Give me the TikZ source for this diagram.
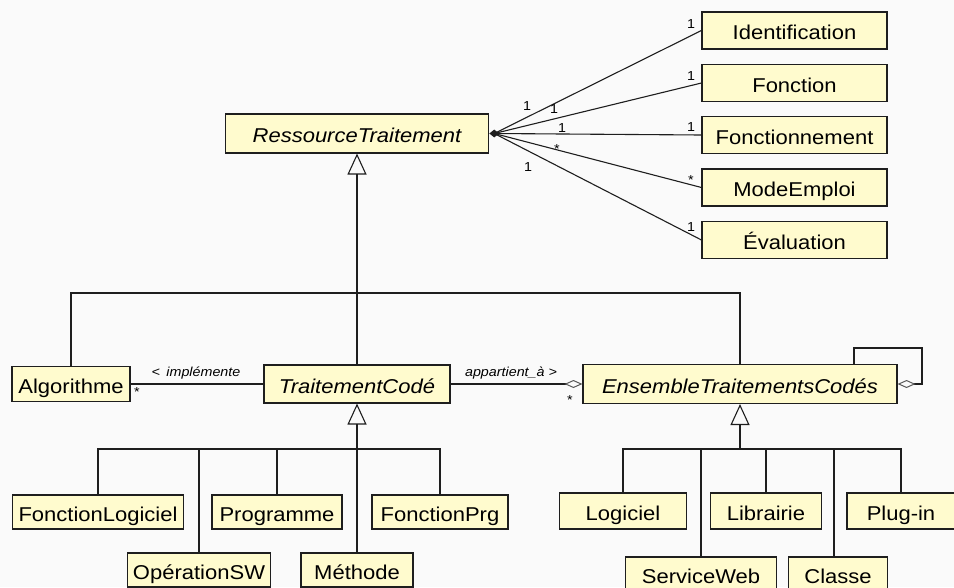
\documentclass[tikz,border=0pt]{standalone}
\usepackage{fontspec}
\usetikzlibrary{arrows.meta,shapes.geometric}
\newfontfamily\umlfont[FakeStretch=1.1]{Liberation Sans}
\definecolor{bgc}{RGB}{250,250,250}
\definecolor{boxc}{RGB}{255,251,206}
\definecolor{linec}{RGB}{30,30,30}
\begin{document}
\begin{tikzpicture}[x=1pt,y=-1pt,
  cls/.style={draw=linec, fill=boxc, line width=1.1pt, inner sep=0pt,
    font=\umlfont\fontsize{20}{24}\selectfont, text height=20pt, text depth=2pt, anchor=center},
  abscls/.style={cls, font=\umlfont\itshape\fontsize{20}{24}\selectfont},
  conn/.style={draw=linec, line width=1.1pt},
  gen/.style={conn, -{Triangle[open, length=21pt, width=19pt, line width=1.1pt]}},
  aggr/.style={conn, -{Diamond[open, length=18pt, width=8pt, line width=1pt, color=gray!70!black]}},
  mult/.style={font=\umlfont\fontsize{13}{15}\selectfont, inner sep=0pt, anchor=base},
  lab/.style={mult, font=\umlfont\itshape\fontsize{13}{15}\selectfont}
]
\fill[bgc] (0,0) rectangle (954,587);
\useasboundingbox (0,0) rectangle (954,587);

% classes
\node[abscls, minimum width=263pt, minimum height=39pt] (res) at (357,133.5) {RessourceTraitement};
\node[cls, minimum width=185pt, minimum height=37pt] (ident) at (794.5,30.5) {Identification};
\node[cls, minimum width=185pt, minimum height=37pt] (fonc) at (794.5,83) {Fonction};
\node[cls, minimum width=185pt, minimum height=37pt] (foncmt) at (794.5,135) {Fonctionnement};
\node[cls, minimum width=185pt, minimum height=37pt] (mode) at (794.5,187.5) {ModeEmploi};
\node[cls, minimum width=185pt, minimum height=37pt] (eval) at (794.5,240) {Évaluation};

\node[cls, minimum width=118pt, minimum height=35pt] (algo) at (71,384) {Algorithme};
\node[abscls, minimum width=186pt, minimum height=38pt] (tc) at (357,384) {TraitementCodé};
\node[abscls, minimum width=314pt, minimum height=39pt] (etc) at (740,384) {EnsembleTraitementsCodés};

\node[cls, minimum width=171pt, minimum height=34pt] (flog) at (98,512) {FonctionLogiciel};
\node[cls, minimum width=130pt, minimum height=34pt] (prog) at (277,512) {Programme};
\node[cls, minimum width=136pt, minimum height=34pt] (fprg) at (440,512) {FonctionPrg};
\node[cls, minimum width=143pt, minimum height=34pt] (opsw) at (199,570) {OpérationSW};
\node[cls, minimum width=112pt, minimum height=34pt] (meth) at (357,570) {Méthode};

\node[cls, minimum width=127pt, minimum height=36pt] (logi) at (623,511) {Logiciel};
\node[cls, minimum width=111pt, minimum height=36pt] (libr) at (766,511) {Librairie};
\node[cls, minimum width=108pt, minimum height=36pt] (plug) at (901,511) {Plug-in};
\node[cls, minimum width=151pt, minimum height=34pt] (sweb) at (701,574) {ServiceWeb};
\node[cls, minimum width=99pt, minimum height=34pt] (clas) at (838,574) {Classe};

% composition from RessourceTraitement
\node[diamond, fill=linec, inner sep=0pt, minimum width=10pt, minimum height=8pt, anchor=west] (comp) at (res.east) {};
\foreach \t in {ident,fonc,foncmt,mode,eval}
  \draw[conn] (comp.center) -- (\t.west);

\node[mult] (s1) at (527,110) {1};
\node[mult] (s2) at (554,113) {1};
\node[mult] (s3) at (562,132) {1};
\node[mult] (s4) at (557,153) {*};
\node[mult] (s5) at (528,171) {1};
\node[mult] (t1) at (691,28) {1};
\node[mult] (t2) at (691,80) {1};
\node[mult] (t3) at (691,131) {1};
\node[mult] (t4) at (691,184) {*};
\node[mult] (t5) at (691,231) {1};

% generalization to RessourceTraitement
\coordinate (gtop) at (357,293);
\draw[conn] (algo.north) |- (gtop) -| (etc.north);
\draw[gen] (tc.north) -- (res.south);

% associations middle row
\draw[conn] (algo.east) -- (tc.west);
\node[lab] (limpl) at (196,376) {<\enspace implémente};
\node[mult] (malgo) at (137,396) {*};
\draw[aggr] (tc.east) -- (etc.west);
\node[lab] (lapp) at (511,376) {appartient\_à >};
\node[mult] (mtc) at (570,404) {*};

% self aggregation
\coordinate (lpc) at (922,348);
\coordinate (lps) at ([xshift=114pt]etc.north);
\draw[aggr] (lps) |- (lpc) |- (etc.east);

% generalization to TraitementCodé
\coordinate (gl) at (357,449);
\draw[gen] (gl) -- (tc.south);
\draw[conn] (flog.north) |- (gl) -| (fprg.north);
\draw[conn] (opsw.north) -- (opsw.north |- gl);
\draw[conn] (prog.north) -- (prog.north |- gl);
\draw[conn] (meth.north) -- (gl);

% generalization to EnsembleTraitementsCodés
\coordinate (gr) at (740,449);
\draw[gen] (gr) -- (etc.south);
\draw[conn] (logi.north) |- (gr) -| (plug.north);
\draw[conn] (sweb.north) -- (sweb.north |- gr);
\draw[conn] (libr.north) -- (libr.north |- gr);
\coordinate (clx) at ([xshift=-4pt]clas.north);
\draw[conn] (clx) -- (clx |- gr);
\end{tikzpicture}
\end{document}
